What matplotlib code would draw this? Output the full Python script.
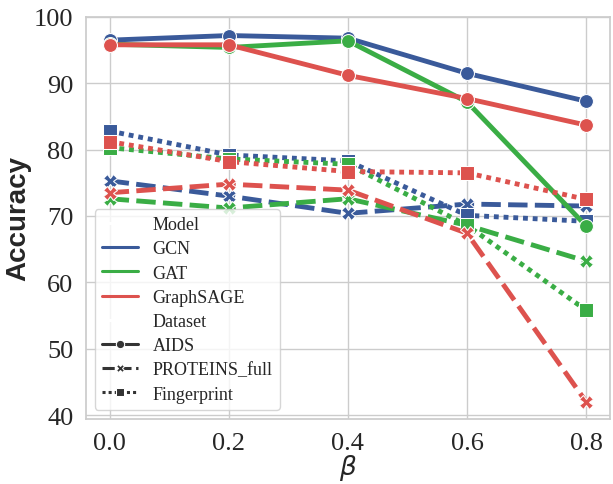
import matplotlib
matplotlib.use("Agg")
import matplotlib.pyplot as plt
import numpy as np
import pandas as pd
import seaborn as sns

betas = [0.0, 0.2, 0.4, 0.6, 0.8]
models = ["GCN", "GAT", "GraphSAGE"]
datasets = ["AIDS", "PROTEINS_full", "Fingerprint"]

gcn_aids = [96.5, 97.2, 96.8, 91.5, 87.3]
gat_aids = [95.9, 95.4, 96.4, 87.2, 68.5]
sage_aids = [95.8, 95.8, 91.2, 87.7, 83.7]

gcn_proteins = [75.3, 73.0, 70.4, 71.8, 71.5]
gat_proteins = [72.6, 71.2, 72.6, 68.6, 63.2]
sage_proteins = [73.5, 74.8, 73.9, 67.4, 42.0]

gcn_finger = [82.8, 79.2, 78.3, 70.1, 69.2]
gat_finger = [80.3, 78.6, 77.8, 68.6, 55.8]
sage_finger = [81.2, 78.2, 76.7, 76.5, 72.5]

series = {
    ("GCN", "AIDS"): gcn_aids,
    ("GAT", "AIDS"): gat_aids,
    ("GraphSAGE", "AIDS"): sage_aids,
    ("GCN", "PROTEINS_full"): gcn_proteins,
    ("GAT", "PROTEINS_full"): gat_proteins,
    ("GraphSAGE", "PROTEINS_full"): sage_proteins,
    ("GCN", "Fingerprint"): gcn_finger,
    ("GAT", "Fingerprint"): gat_finger,
    ("GraphSAGE", "Fingerprint"): sage_finger,
}

rows = []
for (m, d), vals in series.items():
    for b, v in zip(betas, vals):
        rows.append({"beta": b, "Accuracy": v, "Model": m, "Dataset": d})
df = pd.DataFrame(rows)

sns.set_theme(style="whitegrid")
plt.rcParams["font.family"] = ["Liberation Serif", "DejaVu Serif"]

palette = {"GCN": "#3A5A9A", "GAT": "#3AAD45", "GraphSAGE": "#DD524E"}

fig, ax = plt.subplots(figsize=(6.13, 4.85), dpi=100)
sns.lineplot(data=df, x="beta", y="Accuracy", hue="Model", style="Dataset",
             hue_order=models, style_order=datasets, palette=palette,
             markers=["o", "X", "s"], markersize=10, linewidth=3.5,
             markeredgecolor="white", ax=ax)

ax.set_ylim(39.4, 100)
ax.set_yticks(np.arange(40, 101, 10))
ax.set_xticks(betas)
ax.set_xticklabels([f"{b:.1f}" for b in betas])
ax.tick_params(labelsize=19, pad=3)
ax.set_xlabel(r"$\beta$", fontsize=19, family="DejaVu Sans", labelpad=-1)
ax.set_ylabel("Accuracy", fontsize=20, fontweight="bold",
              family="Liberation Sans", labelpad=2)

leg = ax.legend(loc="lower left", fontsize=13, handlelength=2.0,
                borderaxespad=0.5, labelspacing=0.4)
for line in leg.get_lines():
    line.set_linewidth(2.2)
    line.set_markersize(6)

plt.subplots_adjust(left=0.140, right=0.995, top=0.963, bottom=0.134)
plt.savefig("out.png", dpi=100)
